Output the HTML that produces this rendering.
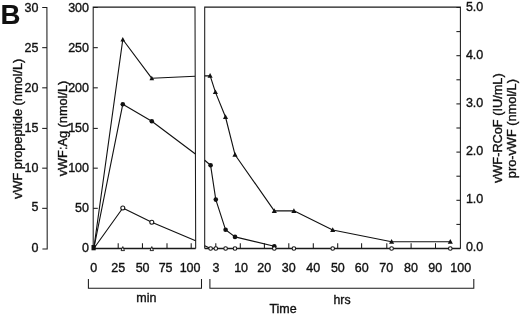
<!DOCTYPE html>
<html><head><meta charset="utf-8"><title>B</title>
<style>
html,body{margin:0;padding:0;background:#fff;}
svg{display:block;}
text{font-family:"Liberation Sans",Arial,sans-serif;fill:#111;stroke:#111;stroke-width:0.35;}
.l{stroke:#1a1a1a;stroke-width:1.05;fill:none;}
.d{stroke:#111;stroke-width:1.12;fill:none;stroke-linejoin:round;}
.fc{fill:#111;stroke:none;}
.oc{fill:#fff;stroke:#111;stroke-width:1.05;}
</style></head><body>
<svg width="520" height="314" viewBox="0 0 520 314">
<rect width="520" height="314" fill="#fff"/>

<text x="0.5" y="23.5" font-size="27.6" font-weight="bold" style="stroke-width:0.1">B</text>
<path class="l" d="M42.2 7.5H46.9L47.2 248.9H42.4"/>
<path class="l" d="M42.2 208.33H47.0"/>
<path class="l" d="M42.2 168.17H47.0"/>
<path class="l" d="M42.2 128.40H47.0"/>
<path class="l" d="M42.2 87.83H47.0"/>
<path class="l" d="M42.2 47.67H47.0"/>
<text x="38.5" y="252.00" font-size="12.5" text-anchor="end">0</text>
<text x="38.5" y="211.43" font-size="12.5" text-anchor="end">5</text>
<text x="38.5" y="172.37" font-size="12.5" text-anchor="end">10</text>
<text x="38.5" y="132.20" font-size="12.5" text-anchor="end">15</text>
<text x="38.5" y="92.03" font-size="12.5" text-anchor="end">20</text>
<text x="38.5" y="51.87" font-size="12.5" text-anchor="end">25</text>
<text x="38.5" y="11.70" font-size="12.5" text-anchor="end">30</text>
<path class="l" d="M93.2 248.5V7.1H195.0L195.7 248.5"/>
<path class="l" d="M93.2 248.5H195.7" style="stroke-width:1.3"/>
<path class="l" d="M97.8 248.50H93.2"/>
<text x="89.0" y="252.00" font-size="12.5" text-anchor="end">0</text>
<path class="l" d="M97.8 208.33H93.2"/>
<text x="89.0" y="211.53" font-size="12.5" text-anchor="end">50</text>
<path class="l" d="M97.8 168.17H93.2"/>
<text x="89.0" y="172.37" font-size="12.5" text-anchor="end">100</text>
<path class="l" d="M97.8 128.40H93.2"/>
<text x="89.0" y="132.20" font-size="12.5" text-anchor="end">150</text>
<path class="l" d="M97.8 87.83H93.2"/>
<text x="89.0" y="92.03" font-size="12.5" text-anchor="end">200</text>
<path class="l" d="M97.8 47.67H93.2"/>
<text x="89.0" y="51.87" font-size="12.5" text-anchor="end">250</text>
<path class="l" d="M97.8 7.50H93.2"/>
<text x="89.0" y="11.70" font-size="12.5" text-anchor="end">300</text>
<path class="l" d="M118.20 248.5v-5.3"/>
<path class="l" d="M142.45 248.5v-5.3"/>
<path class="l" d="M167.00 248.5v-5.3"/>
<path class="l" d="M191.20 248.5v-5.3"/>
<text x="93.80" y="271.6" font-size="12.5" text-anchor="middle">0</text>
<text x="118.30" y="271.6" font-size="12.5" text-anchor="middle">25</text>
<text x="142.60" y="271.6" font-size="12.5" text-anchor="middle">50</text>
<text x="165.60" y="271.6" font-size="12.5" text-anchor="middle">75</text>
<text x="190.10" y="271.6" font-size="12.5" text-anchor="middle">100</text>
<path class="l" d="M204.7 248.5V7.1H460.4V248.5"/>
<path class="l" d="M204.7 248.5H460.4" style="stroke-width:1.3"/>
<path class="l" d="M215.80 248.5v-5.3"/>
<path class="l" d="M240.30 248.5v-5.3"/>
<path class="l" d="M264.40 248.5v-5.3"/>
<path class="l" d="M288.80 248.5v-5.3"/>
<path class="l" d="M313.30 248.5v-5.3"/>
<path class="l" d="M337.70 248.5v-5.3"/>
<path class="l" d="M361.60 248.5v-5.3"/>
<path class="l" d="M386.80 248.5v-5.3"/>
<path class="l" d="M411.10 248.5v-5.3"/>
<path class="l" d="M435.50 248.5v-5.3"/>
<text x="215.95" y="271.6" font-size="12.5" text-anchor="middle">3</text>
<text x="241.10" y="271.6" font-size="12.5" text-anchor="middle">10</text>
<text x="264.30" y="271.6" font-size="12.5" text-anchor="middle">20</text>
<text x="288.80" y="271.6" font-size="12.5" text-anchor="middle">30</text>
<text x="313.30" y="271.6" font-size="12.5" text-anchor="middle">40</text>
<text x="337.85" y="271.6" font-size="12.5" text-anchor="middle">50</text>
<text x="361.70" y="271.6" font-size="12.5" text-anchor="middle">60</text>
<text x="386.20" y="271.6" font-size="12.5" text-anchor="middle">70</text>
<text x="411.00" y="271.6" font-size="12.5" text-anchor="middle">80</text>
<text x="435.20" y="271.6" font-size="12.5" text-anchor="middle">90</text>
<text x="460.70" y="271.6" font-size="12.5" text-anchor="middle">100</text>
<path class="l" d="M456.4 248.50H460.4"/>
<path class="l" d="M456.4 224.40H460.4"/>
<path class="l" d="M456.4 200.30H460.4"/>
<path class="l" d="M456.4 176.20H460.4"/>
<path class="l" d="M456.4 152.10H460.4"/>
<path class="l" d="M456.4 128.00H460.4"/>
<path class="l" d="M456.4 103.90H460.4"/>
<path class="l" d="M456.4 79.80H460.4"/>
<path class="l" d="M456.4 55.70H460.4"/>
<path class="l" d="M456.4 31.60H460.4"/>
<path class="l" d="M456.4 7.50H460.4"/>
<text x="465.9" y="250.60" font-size="12.5">0.0</text>
<text x="465.9" y="202.90" font-size="12.5">1.0</text>
<text x="465.9" y="154.90" font-size="12.5">2.0</text>
<text x="465.9" y="106.90" font-size="12.5">3.0</text>
<text x="465.9" y="58.70" font-size="12.5">4.0</text>
<text x="465.9" y="10.50" font-size="12.5">5.0</text>
<path class="l" d="M88.4 279.1V288.2H201.5V279.1"/>
<path class="l" d="M209.9 279.1V288.2H473.8V279.1"/>
<text x="146.3" y="302.3" font-size="12.5" text-anchor="middle">min</text>
<text x="342" y="303.6" font-size="12.3" text-anchor="middle">hrs</text>
<text x="283.1" y="313.0" font-size="12.5" text-anchor="middle">Time</text>
<text transform="translate(22.1 128.8) rotate(-90) scale(1.045 1)" font-size="12.2" text-anchor="middle">vWF propeptide (nmol/L)</text>
<text transform="translate(66.6 128.5) rotate(-90) scale(1.045 1)" font-size="12.2" text-anchor="middle">vWF:Ag (nmol/L)</text>
<text transform="translate(502.0 128.2) rotate(-90) scale(1.045 1)" font-size="12.2" text-anchor="middle">vWF-RCoF (IU/mL)</text>
<text transform="translate(515.6 128.6) rotate(-90) scale(1.045 1)" font-size="12.2" text-anchor="middle">pro-vWF (nmol/L)</text>
<path class="d" d="M93.80 248.50L122.80 39.50L151.80 78.30L195.00 76.20"/>
<path class="d" d="M93.80 248.50L122.80 104.20L151.80 121.20L195.40 154.00"/>
<path class="d" d="M93.80 248.50L122.80 208.00L151.80 222.30L195.60 240.80"/>
<path class="fc" d="M122.80 37.00L125.17 41.38H120.42Z"/>
<path class="fc" d="M151.80 75.80L154.18 80.17H149.43Z"/>
<circle class="fc" cx="122.80" cy="104.20" r="2.3"/>
<circle class="fc" cx="151.80" cy="121.20" r="2.3"/>
<circle class="oc" cx="122.80" cy="208.00" r="2.0"/>
<circle class="oc" cx="151.80" cy="222.30" r="2.0"/>
<rect x="91.5" y="245.0" width="4.2" height="5.3" class="fc"/>
<path class="oc" style="stroke-width:0.9" d="M122.80 246.60L124.50 250.60H121.10Z"/>
<path class="oc" style="stroke-width:0.9" d="M151.80 246.60L153.50 250.60H150.10Z"/>
<path class="d" d="M204.70 75.90L210.10 75.70L215.40 92.10L225.50 117.00L235.00 154.70L274.30 210.85L293.90 210.85L332.70 230.00L391.60 241.70L450.30 241.75"/>
<path class="d" d="M204.70 160.30L210.60 165.30L215.80 199.60L225.60 229.80L235.00 236.90L274.30 246.30"/>
<path class="d" d="M204.70 245.80L210.60 248.50"/>
<path class="fc" d="M210.10 73.00L212.66 77.73H207.53Z"/>
<path class="fc" d="M215.40 89.40L217.97 94.12H212.84Z"/>
<path class="fc" d="M225.50 114.30L228.06 119.03H222.94Z"/>
<path class="fc" d="M235.00 152.00L237.56 156.72H232.44Z"/>
<path class="fc" d="M274.30 208.15L276.87 212.88H271.74Z"/>
<path class="fc" d="M293.90 208.15L296.46 212.88H291.33Z"/>
<path class="fc" d="M332.70 227.30L335.26 232.03H330.13Z"/>
<path class="fc" d="M391.60 239.00L394.17 243.72H389.04Z"/>
<path class="fc" d="M450.30 239.05L452.87 243.78H447.74Z"/>
<circle class="fc" cx="210.60" cy="165.30" r="2.3"/>
<circle class="fc" cx="215.80" cy="199.60" r="2.3"/>
<circle class="fc" cx="225.60" cy="229.80" r="2.3"/>
<circle class="fc" cx="235.00" cy="236.90" r="2.3"/>
<circle class="fc" cx="274.30" cy="246.30" r="2.3"/>
<circle class="oc" cx="210.60" cy="248.50" r="1.8"/>
<circle class="oc" cx="215.80" cy="248.50" r="1.8"/>
<circle class="oc" cx="225.60" cy="248.50" r="1.8"/>
<circle class="oc" cx="235.00" cy="248.50" r="1.8"/>
<circle class="oc" cx="274.30" cy="248.50" r="1.8"/>
<circle class="oc" cx="293.90" cy="248.50" r="1.8"/>
<circle class="oc" cx="332.70" cy="248.50" r="1.8"/>
<circle class="oc" cx="391.60" cy="248.50" r="1.8"/>
<circle class="oc" cx="450.30" cy="248.50" r="1.8"/>
</svg></body></html>
